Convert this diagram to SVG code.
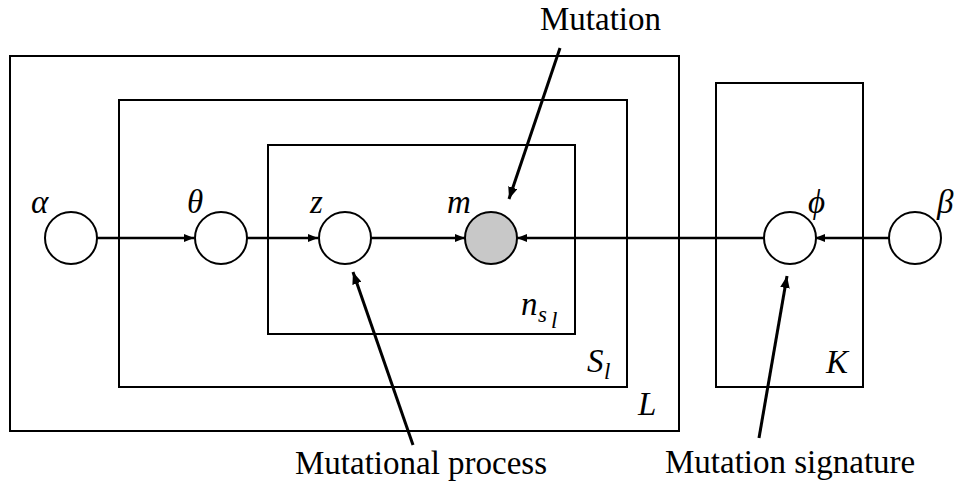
<svg xmlns="http://www.w3.org/2000/svg" width="962" height="484" viewBox="0 0 962 484">
  <style>
    .plate { fill: none; stroke: #000; stroke-width: 2; }
    .node { fill: #fff; stroke: #000; stroke-width: 2; }
    .obs { fill: #c8c8c8; }
    .edge { stroke: #000; stroke-width: 2.5; fill: none; marker-end: url(#head); }
    .pointer { stroke: #000; stroke-width: 3; fill: none; marker-end: url(#head); }
    .var { font-family: 'Times New Roman', 'Liberation Serif', 'DejaVu Serif', serif; font-style: italic; font-size: 33px; fill: #000; }
    .sub { font-family: 'Times New Roman', 'Liberation Serif', 'DejaVu Serif', serif; font-style: italic; font-size: 23px; fill: #000; }
    .caption { font-family: 'Times New Roman', 'Liberation Serif', serif; font-size: 33px; fill: #000; }
  </style>
  <defs>
    <marker id="head" viewBox="0 0 10 8" refX="10" refY="4" markerWidth="4" markerHeight="3.2" orient="auto" markerUnits="strokeWidth">
      <path d="M0,0 L10,4 L0,8 Z" fill="#000"/>
    </marker>
  </defs>

  <!-- plates -->
  <g id="plate-L">
    <rect class="plate" x="10" y="56" width="669" height="375"/>
    <text class="var" x="638" y="415">L</text>
  </g>
  <g id="plate-S">
    <rect class="plate" x="119" y="100" width="508" height="287"/>
    <text class="var" x="587" y="372">S</text>
    <text class="sub" x="604" y="379">l</text>
  </g>
  <g id="plate-n">
    <rect class="plate" x="268" y="145" width="307" height="189"/>
    <text class="var" x="521" y="315">n</text>
    <text class="sub" x="538" y="322">s</text>
    <text class="sub" x="551" y="328" font-size="17">l</text>
  </g>
  <g id="plate-K">
    <rect class="plate" x="716" y="83" width="147" height="304"/>
    <text class="var" x="826" y="373">K</text>
  </g>

  <!-- connectors -->
  <g id="connectors">
    <line class="edge" x1="97" y1="238" x2="194" y2="238"/>
    <line class="edge" x1="247" y1="238" x2="318" y2="238"/>
    <line class="edge" x1="371" y1="238" x2="465" y2="238"/>
    <line class="edge" x1="764" y1="238" x2="517" y2="238"/>
    <line class="edge" x1="889" y1="238" x2="815" y2="238"/>
    <line class="pointer" x1="560" y1="48" x2="509" y2="199"/>
    <line class="pointer" x1="413" y1="445" x2="353" y2="272"/>
    <line class="pointer" x1="759" y1="438" x2="787" y2="276"/>
  </g>

  <!-- nodes -->
  <g id="node-alpha">
    <circle class="node" cx="71" cy="238" r="26"/>
    <text class="var" x="31" y="213">α</text>
  </g>
  <g id="node-theta">
    <circle class="node" cx="221" cy="238" r="26"/>
    <text class="var" x="187" y="213">θ</text>
  </g>
  <g id="node-z">
    <circle class="node" cx="345" cy="238" r="26"/>
    <text class="var" x="310" y="213">z</text>
  </g>
  <g id="node-m">
    <circle class="node obs" cx="491" cy="238" r="26"/>
    <text class="var" x="447" y="213">m</text>
  </g>
  <g id="node-phi">
    <circle class="node" cx="790" cy="238" r="26"/>
    <text class="var" x="808" y="213">ϕ</text>
  </g>
  <g id="node-beta">
    <circle class="node" cx="915" cy="238" r="26"/>
    <text class="var" x="937" y="213">β</text>
  </g>

  <!-- captions -->
  <g id="captions">
    <text class="caption" x="540" y="30">Mutation</text>
    <text class="caption" x="295" y="474">Mutational process</text>
    <text class="caption" x="665" y="473">Mutation signature</text>
  </g>
</svg>
